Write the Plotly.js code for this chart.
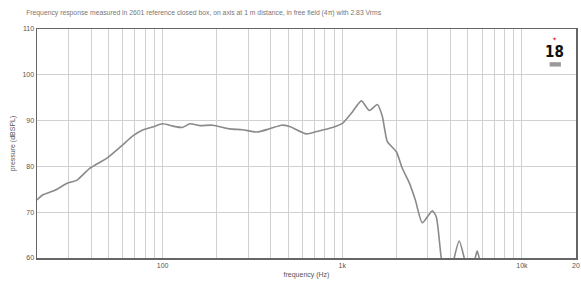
<!DOCTYPE html>
<html>
<head>
<meta charset="utf-8">
<script src="https://cdn.plot.ly/plotly-3.0.1.min.js"></script>
<style>html,body{margin:0;padding:0;background:#fff;}#chart{width:581px;height:286px;}</style>
</head>
<body>
<div id="chart"></div>
<script>
// Frequency response data (Hz, dBSPL)
const freqHz = [20, 21.6, 25.2, 29.4, 33.4, 39.4, 49, 60, 68, 78, 88, 100, 114, 129, 142, 161, 190, 236, 279, 334, 394, 459, 509, 632, 719, 882, 1002, 1139, 1278, 1416, 1569, 1672, 1783, 2000, 2159, 2362, 2550, 2790, 3170, 3336, 3557, 3890, 4200, 4478, 4775, 5090, 5496, 5637, 5780, 6200, 8000, 12000, 20000];
const splDb  = [72.7, 73.8, 74.8, 76.3, 77.0, 79.6, 81.8, 84.7, 86.6, 88.0, 88.6, 89.3, 88.8, 88.5, 89.3, 88.9, 89.0, 88.2, 88.0, 87.5, 88.2, 89.0, 88.7, 87.1, 87.6, 88.5, 89.4, 91.9, 94.3, 92.2, 93.5, 90.9, 85.4, 83.2, 79.6, 76.4, 72.7, 67.7, 70.3, 69.0, 60.0, 52.0, 60.0, 63.7, 60.0, 55.0, 60.0, 61.5, 60.0, 50.0, 45.0, 42.0, 40.0];

const gridVals = [20,30,40,50,60,70,80,90,100,200,300,400,500,600,700,800,900,1000,2000,3000,4000,5000,6000,7000,8000,9000,10000,20000];
const labelMap = {100: "100", 1000: "1k", 10000: "10k", 20000: "20"};
const gridText = gridVals.map(v => labelMap[v] || "");
const yTicks = [60, 70, 80, 90, 100, 110];

const chartTitle = "Frequency response measured in 2601 reference closed box, on axis at 1 m distance, in free field (4\u03c0) with 2.83 Vrms";

const trace = {
  x: freqHz, y: splDb, type: "scatter", mode: "lines",
  line: {color: "#8a8a8a", width: 1.6, shape: "spline", smoothing: 0.6},
  hoverinfo: "skip"
};

const layout = {
  width: 581, height: 286,
  margin: {l: 37, r: 5, t: 29, b: 28},
  paper_bgcolor: "#fff", plot_bgcolor: "#fff",
  font: {family: "Liberation Sans, Arial, sans-serif", color: "#555", size: 7},
  showlegend: false,
  title: {text: chartTitle, x: 0.045, xanchor: "left", y: 0.955, yanchor: "middle",
          font: {size: 6.8, color: "#777"}},
  xaxis: {
    type: "log", range: [Math.log10(20), Math.log10(20000)],
    tickmode: "array", tickvals: gridVals, ticktext: gridText,
    showgrid: true, gridcolor: "#d0d0d0", gridwidth: 1,
    ticks: "", tickfont: {size: 7, color: "#555"},
    showline: true, linecolor: "#666", linewidth: 1.5, mirror: true,
    zeroline: false,
    title: {text: "frequency (Hz)", font: {size: 7, color: "#555"}, standoff: 4}
  },
  yaxis: {
    range: [60, 110], tickmode: "array", tickvals: yTicks,
    showgrid: true, gridcolor: "#d0d0d0", gridwidth: 1,
    ticks: "", tickfont: {size: 7, color: "#555"},
    showline: true, linecolor: "#666", linewidth: 1.5, mirror: true,
    zeroline: false,
    title: {text: "pressure (dBSPL)", font: {size: 7, color: "#555"}, standoff: 6}
  },
  annotations: [
    {xref: "paper", yref: "paper", x: 0.961, y: 0.9, xanchor: "center", yanchor: "middle",
     text: "<b>18</b>", showarrow: false,
     font: {family: "DejaVu Sans Condensed, DejaVu Sans, sans-serif", size: 15, color: "#111"}},
    {xref: "paper", yref: "paper", x: 0.961, y: 0.955, xanchor: "center", yanchor: "middle",
     text: "\u2726", showarrow: false, font: {size: 6, color: "#d33"}}
  ],
  shapes: [
    {type: "rect", xref: "paper", yref: "paper", x0: 0.951, x1: 0.972, y0: 0.836, y1: 0.855,
     fillcolor: "#999", line: {width: 0}}
  ]
};

Plotly.newPlot("chart", [trace], layout, {staticPlot: true, displayModeBar: false});
</script>
</body>
</html>
